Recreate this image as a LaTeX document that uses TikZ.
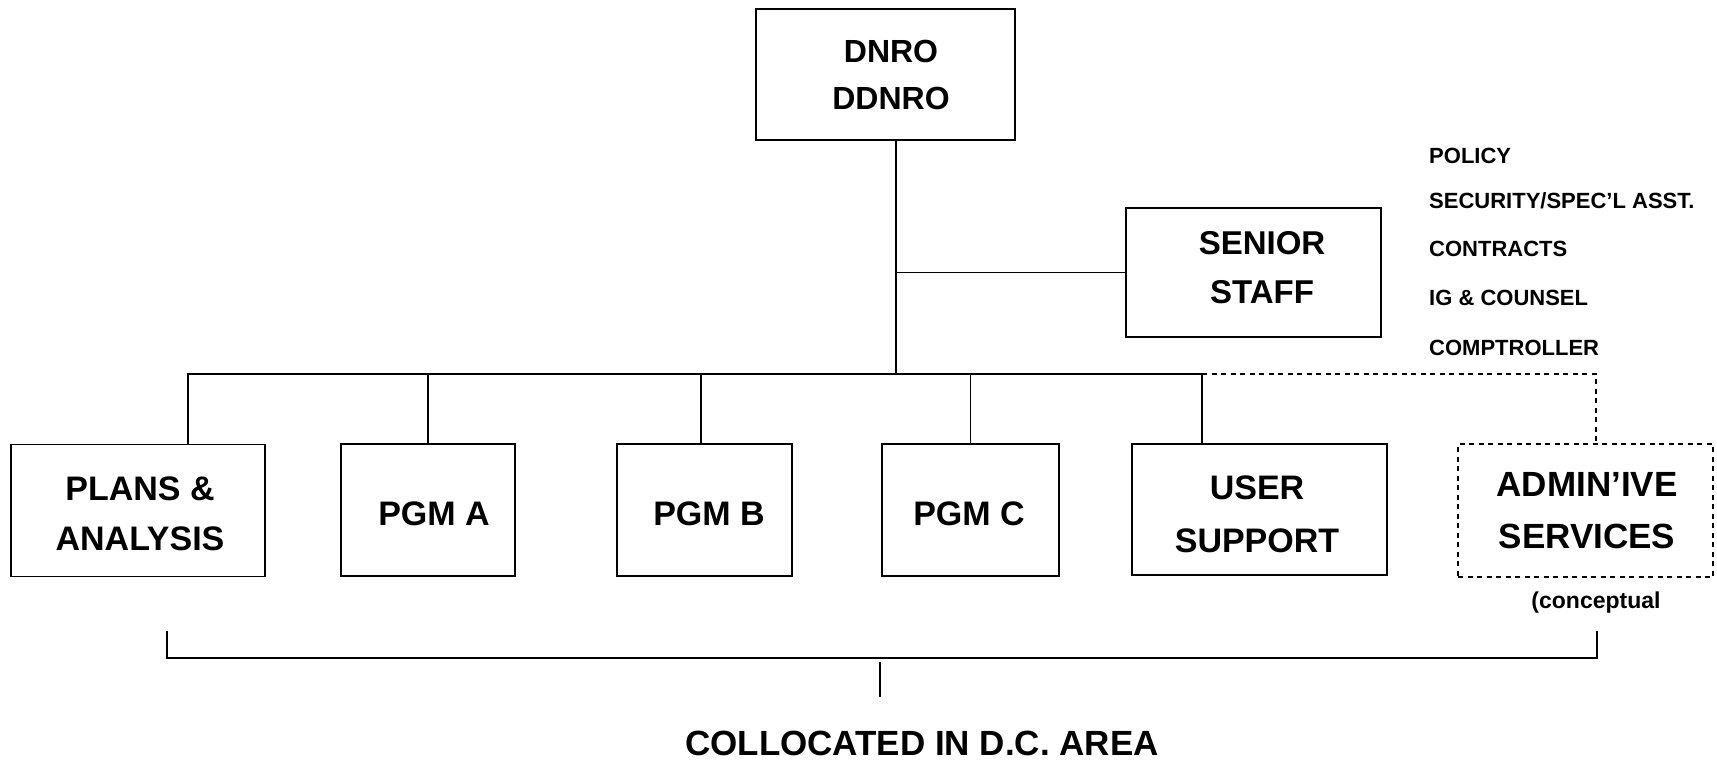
\documentclass[tikz,border=0pt]{standalone}
\usepackage{fontspec}
\setmainfont{Liberation Sans}
\begin{document}
\begin{tikzpicture}[x=1pt,y=-1pt,
  boxstyle/.style={draw, line width=1.8pt, inner sep=0pt},
  dotbox/.style={boxstyle, dash pattern=on 5pt off 4.5pt, line width=1.6pt},
  boxtext/.style={align=center, inner sep=0pt, font=\bfseries\fontsize{34}{50}\selectfont},
  conn/.style={line width=1.6pt},
  dotconn/.style={line width=1.6pt, dash pattern=on 5pt off 4.5pt},
  listtext/.style={anchor=base west, inner sep=0pt, font=\bfseries\fontsize{22}{26}\selectfont}]
\useasboundingbox (0,0) rectangle (1717,760);

% top boxes
\node[boxstyle, minimum width=259pt, minimum height=131pt] (dnro) at (885.5,74.5) {};
\node[boxtext, font=\bfseries\fontsize{32}{47}\selectfont] (dnroT) at (891,75) {DNRO\\DDNRO};
\node[boxstyle, minimum width=255pt, minimum height=129pt] (ss) at (1253.5,272.5) {};
\node[boxtext, font=\bfseries\fontsize{33}{49}\selectfont] (ssT) at (1262,268) {SENIOR\\STAFF};

% list
\node[listtext] (l1) at (1429,163) {POLICY};
\node[listtext] (l2) at (1429,208) {SECURITY/SPEC'L ASST.};
\node[listtext] (l3) at (1429,256) {CONTRACTS};
\node[listtext] (l4) at (1429,305) {IG \& COUNSEL};
\node[listtext] (l5) at (1429,355) {COMPTROLLER};

% bottom row
\node[boxstyle, minimum width=254pt, minimum height=132pt] (pl) at (138,510.5) {};
\node[boxtext] (plT) at (140,514) {PLANS \&\\ANALYSIS};
\node[boxstyle, minimum width=174pt, minimum height=132pt] (pa) at (428,510) {};
\node[boxtext] (paT) at (434,514) {PGM A};
\node[boxstyle, minimum width=175pt, minimum height=132pt] (pb) at (704.5,510) {};
\node[boxtext] (pbT) at (709,514) {PGM B};
\node[boxstyle, minimum width=177pt, minimum height=132pt] (pc) at (970.5,510) {};
\node[boxtext] (pcT) at (969,514) {PGM C};
\node[boxstyle, minimum width=255pt, minimum height=131pt] (us) at (1259.5,509.5) {};
\node[boxtext, font=\bfseries\fontsize{34}{53}\selectfont] (usT) at (1257,514) {USER\\SUPPORT};
\node[dotbox, minimum width=255pt, minimum height=133pt] (ad) at (1585.5,510.5) {};
\node[boxtext, font=\bfseries\fontsize{35}{52}\selectfont] (adT) at (1587,511) {ADMIN'IVE\\SERVICES};
\node[inner sep=0pt, font=\bfseries\fontsize{23}{28}\selectfont] (cn) at (1596,603) {(conceptual};

% connectors
\coordinate (spine) at (896,374);
\draw[conn] (dnro.south -| spine) -- (spine);
\draw[conn] (spine |- ss.west) -- (ss.west);
\draw[conn] ([xshift=50pt]pl.north) |- ([xshift=-57.5pt]us.north |- spine) -- ([xshift=-57.5pt]us.north);
\draw[conn] (pa.north) -- (pa.north |- spine);
\draw[conn] ([xshift=-3.5pt]pb.north) -- ([xshift=-3.5pt]pb.north |- spine);
\draw[conn] (pc.north) -- (pc.north |- spine);
\draw[dotconn] ([xshift=-57.5pt]us.north |- spine) -| ([xshift=10.5pt]ad.north);

% bracket
\coordinate (bl) at (167,631);
\coordinate (br) at (1597,631);
\coordinate (bmid) at (880,658);
\coordinate (tickTop) at (880,662);
\coordinate (tickBot) at (880,697);
\draw[conn] (bl) |- (bmid) -| (br);
\draw[conn] (tickTop) -- (tickBot);
\node[inner sep=0pt, font=\bfseries\fontsize{35}{40}\selectfont] (coll) at (922,743) {COLLOCATED IN D.C. AREA};
\end{tikzpicture}
\end{document}
